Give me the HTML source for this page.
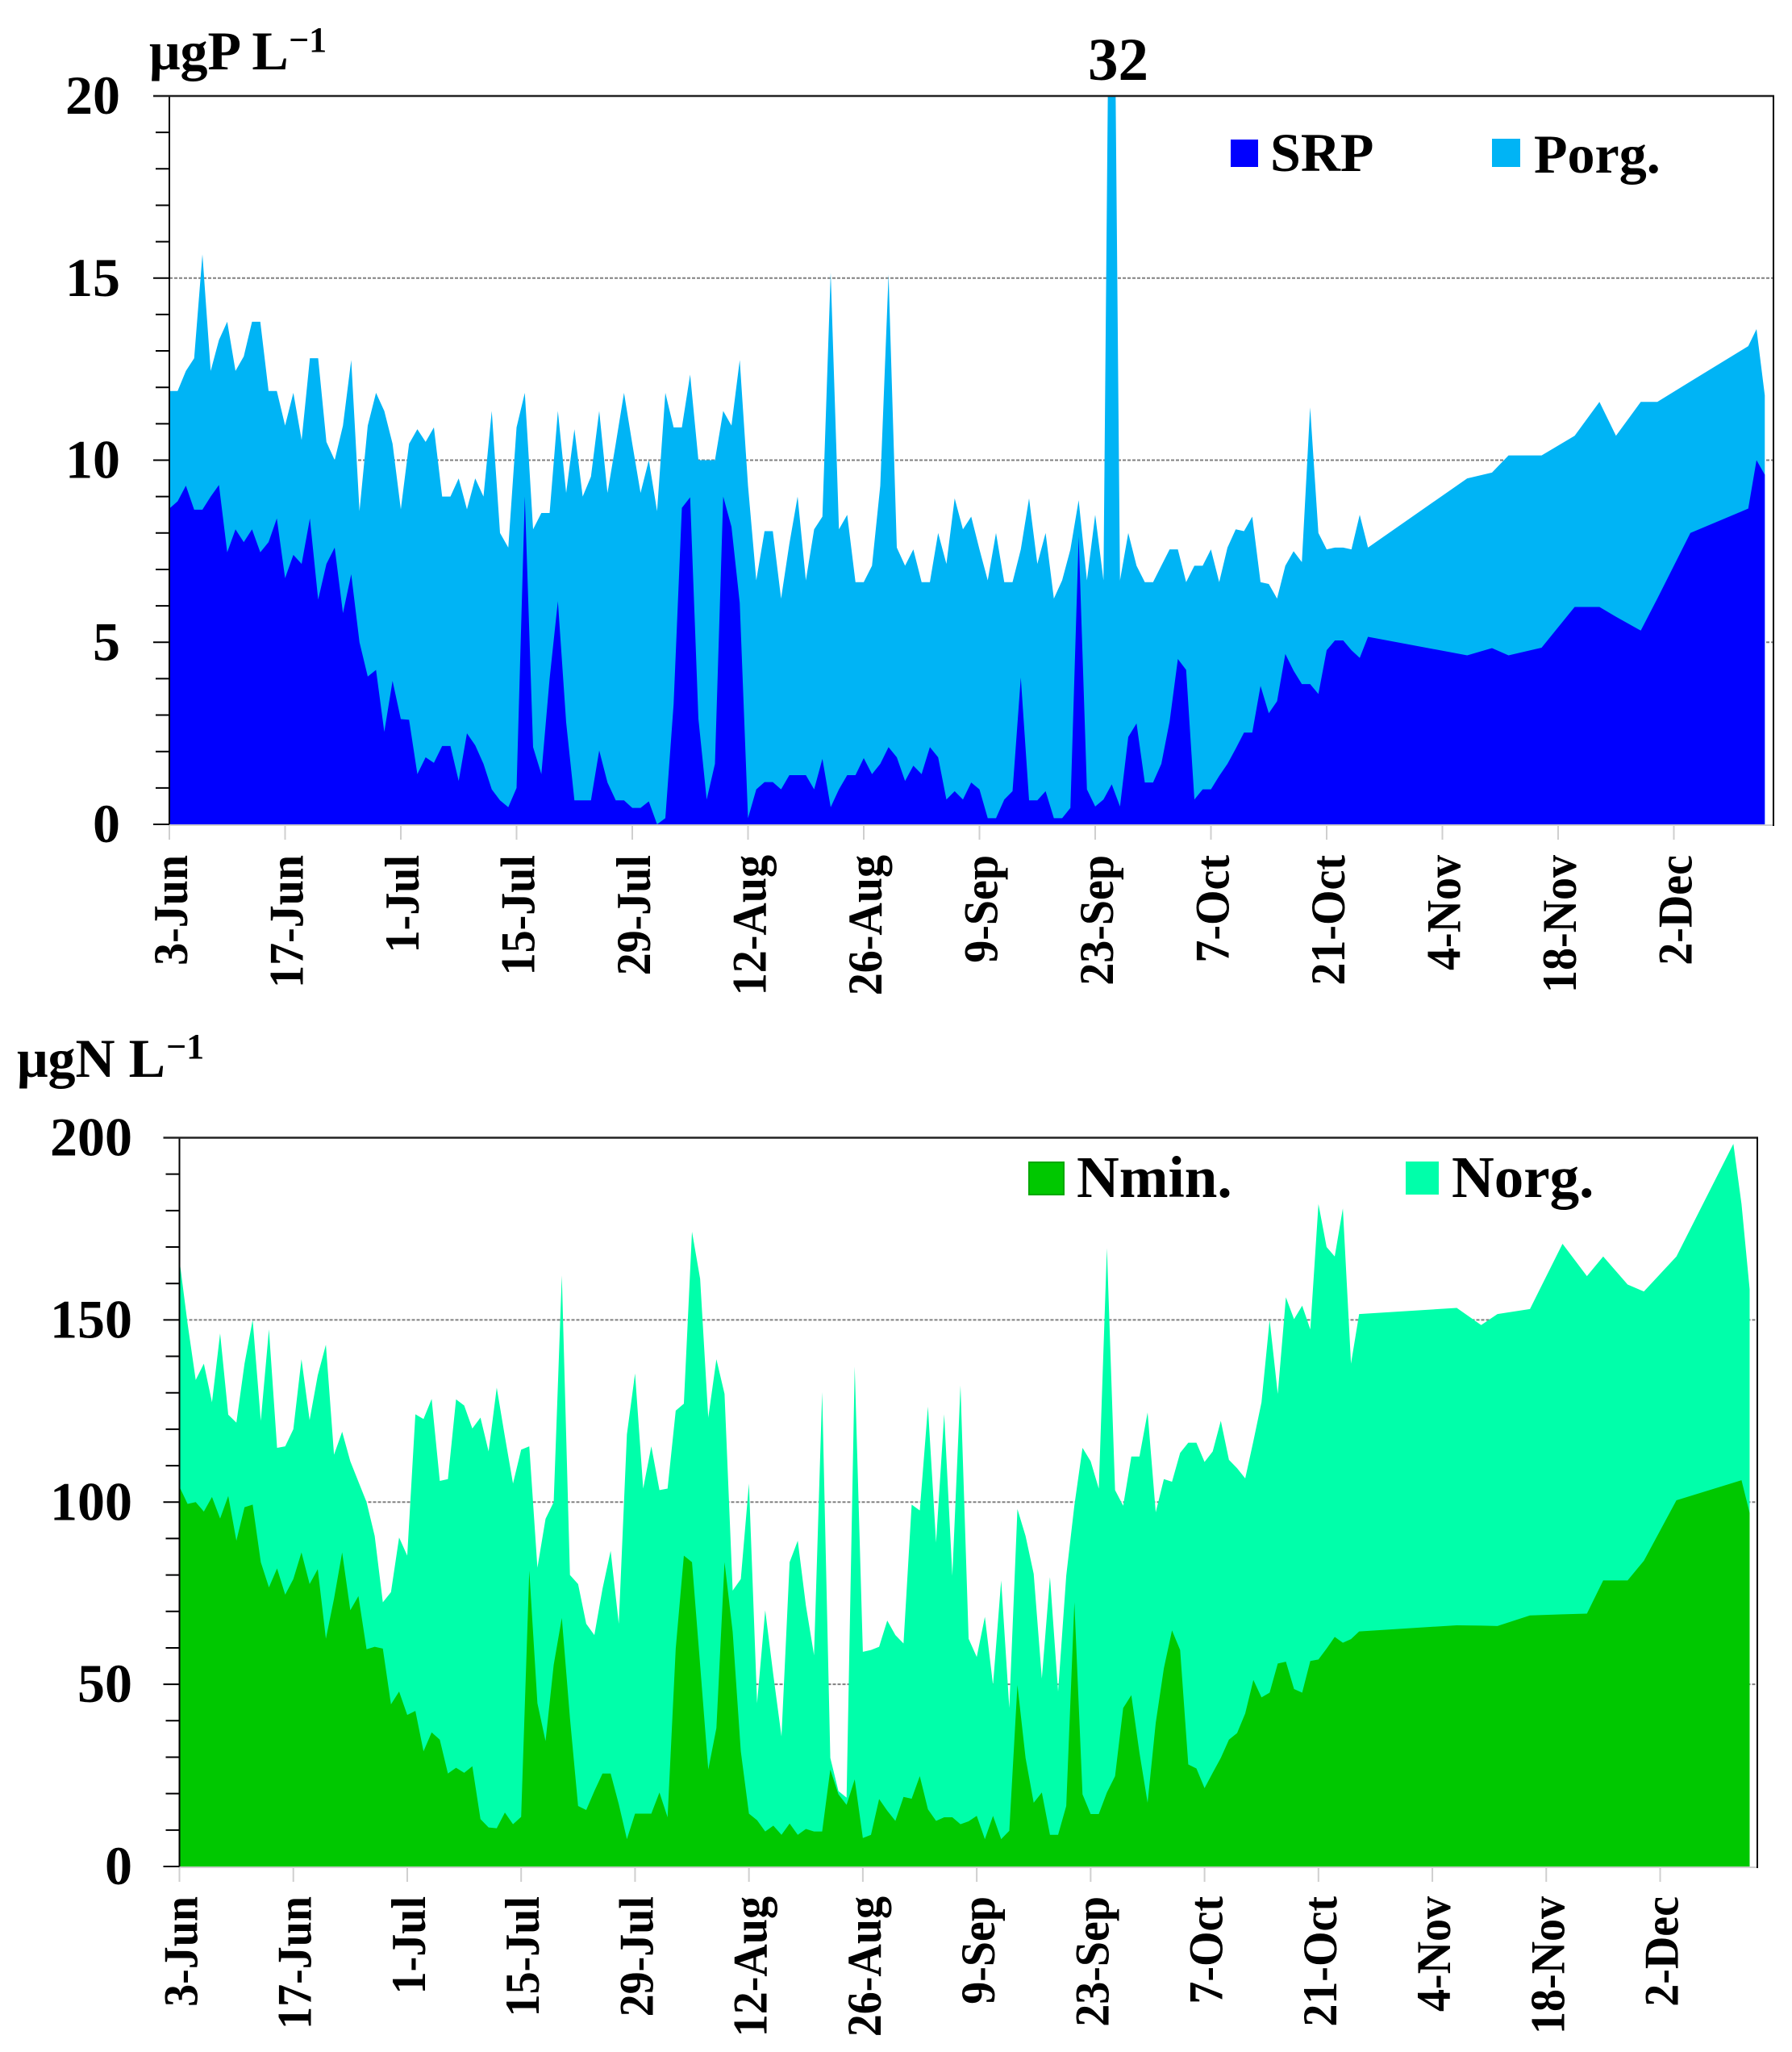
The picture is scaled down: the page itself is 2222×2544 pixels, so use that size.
<!DOCTYPE html>
<html lang="en">
<head>
<meta charset="utf-8">
<title>Phosphorus and nitrogen fractions, 3 June to December</title>
<style>
  html, body { margin: 0; padding: 0; background: #fff; }
  svg { display: block; }
  text { font-family: "Liberation Serif", serif; font-weight: bold; fill: #000; }
</style>
</head>
<body>
<svg id="figure" xmlns="http://www.w3.org/2000/svg" width="2222" height="2544" viewBox="0 0 2222 2544">
  <rect x="0" y="0" width="2222" height="2544" fill="#fff"/>

  <g id="chart-p"></g>
  <g id="chart-n"></g>

  <text x="185" y="86" font-size="68">μgP L</text>
  <text x="358" y="64" font-size="44">−1</text>
  <text x="1349" y="99" font-size="75">32</text>

  <rect x="1526" y="173" width="34" height="34" fill="#0000ff"/>
  <text x="1575" y="212" font-size="68">SRP</text>
  <rect x="1850" y="172" width="35" height="35" fill="#00b4f5"/>
  <text x="1902" y="214" font-size="68">Porg.</text>

  <text x="21" y="1335" font-size="68">μgN L</text>
  <text x="206" y="1312" font-size="44">−1</text>

  <rect x="1276" y="1441" width="43" height="40" fill="#00c800" stroke="#00a800" stroke-width="2"/>
  <text x="1335" y="1484" font-size="73">Nmin.</text>
  <rect x="1743" y="1440" width="41" height="41" fill="#00ffaa"/>
  <text x="1800" y="1484" font-size="73">Norg.</text>
</svg>

<script>
// Days elapsed since 3 June for each sample (shared by both charts)
const dayOffsets = [
  0,1,2,3,4,5,6,7,8,9,10,11,12,13,14,15,16,17,18,19,
  20,21,22,23,24,25,26,27,28,29,30,31,32,33,34,35,36,37,38,39,
  40,41,42,43,44,45,46,47,48,49,50,51,52,53,54,55,56,57,58,59,
  60,61,62,63,64,65,66,67,68,69,70,71,72,73,74,75,76,77,78,79,
  80,81,82,83,84,85,86,87,88,89,90,91,92,93,94,95,96,97,98,99,
  100,101,102,103,104,105,106,107,108,109,110,111,112,113,114,115,116,117,118,119,
  120,121,122,123,124,125,126,127,128,129,130,131,132,133,134,135,136,137,138,139,
  140,141,142,143,144,145,
  157,160,162,166,170,173,175,178,180,184,191,192,193
];

const xTickDays = [0,14,28,42,56,70,84,98,112,126,140,154,168,182];
const xTickLabels = ["3-Jun","17-Jun","1-Jul","15-Jul","29-Jul","12-Aug","26-Aug","9-Sep","23-Sep","7-Oct","21-Oct","4-Nov","18-Nov","2-Dec"];

const pYTicks = [0,5,10,15,20];
const pYTickLabels = ["0","5","10","15","20"];
const pGridValues = [5,10,15];
const pMinorTicks = [1,2,3,4,6,7,8,9,11,12,13,14,16,17,18,19];

const nYTicks = [0,50,100,150,200];
const nYTickLabels = ["0","50","100","150","200"];
const nGridValues = [50,100,150];
const nMinorTicks = [10,20,30,40,60,70,80,90,110,120,130,140,160,170,180,190];

// Soluble reactive phosphorus
const srpValues = [
  8.67,8.87,9.3,8.64,8.64,9.0,9.32,7.47,8.1,7.75,
  8.1,7.47,7.75,8.4,6.76,7.4,7.15,8.4,6.17,7.15,
  7.6,5.8,6.87,5.0,4.06,4.24,2.54,3.94,2.89,2.87,
  1.38,1.84,1.69,2.15,2.15,1.19,2.5,2.17,1.66,0.96,
  0.66,0.47,1.0,9.0,2.12,1.38,4.0,6.13,2.8,0.66,
  0.66,0.66,2.03,1.15,0.66,0.66,0.45,0.45,0.63,0.0,
  0.17,3.3,8.69,8.98,2.9,0.68,1.66,9.0,8.17,6.08,
  0.17,0.96,1.16,1.16,0.96,1.35,1.35,1.35,0.96,1.8,
  0.47,0.96,1.35,1.35,1.82,1.38,1.66,2.12,1.84,1.19,
  1.61,1.38,2.12,1.84,0.68,0.91,0.68,1.15,0.96,0.17,
  0.17,0.68,0.91,4.03,0.66,0.66,0.91,0.17,0.17,0.45,
  7.9,0.96,0.49,0.68,1.1,0.49,2.4,2.77,1.15,1.15,
  1.66,2.82,4.54,4.24,0.68,0.96,0.96,1.33,1.66,2.08,
  2.52,2.52,3.8,3.05,3.38,4.68,4.22,3.85,3.85,3.58,
  4.78,5.05,5.05,4.78,4.57,5.15,
  4.64,4.84,4.64,4.85,5.97,5.97,5.7,5.32,6.2,8.0,8.67,10.0,9.6
];

// Top of the stack: SRP + organic phosphorus
const totalPValues = [
  11.9,11.9,12.45,12.8,15.65,12.45,13.3,13.8,12.45,12.85,
  13.8,13.8,11.9,11.9,10.95,11.85,10.55,12.8,12.8,10.5,
  10.0,10.95,12.75,8.6,10.95,11.85,11.35,10.45,8.65,10.45,
  10.85,10.5,10.9,9.0,9.0,9.5,8.65,9.5,9.0,11.35,
  8.0,7.6,10.9,11.85,8.1,8.55,8.55,11.35,9.1,10.85,
  9.0,9.55,11.35,9.1,10.45,11.85,10.45,9.1,10.0,8.6,
  11.85,10.9,10.9,12.35,10.0,10.0,10.0,11.35,10.95,12.75,
  9.3,6.7,8.05,8.05,6.2,7.7,9.0,6.7,8.1,8.45,
  15.15,8.1,8.5,6.65,6.65,7.1,9.3,15.1,7.6,7.1,
  7.55,6.65,6.65,8.0,7.15,8.95,8.1,8.45,7.55,6.7,
  8.0,6.65,6.65,7.55,8.95,7.15,8.0,6.2,6.7,7.55,
  8.9,6.7,8.5,6.7,32,6.7,8.0,7.1,6.65,6.65,
  7.1,7.55,7.55,6.65,7.1,7.1,7.55,6.65,7.6,8.1,
  8.05,8.45,6.65,6.6,6.2,7.1,7.5,7.2,11.45,8.0,
  7.55,7.6,7.6,7.55,8.5,7.6,
  9.5,9.66,10.13,10.13,10.67,11.6,10.67,11.6,11.6,12.16,13.13,13.6,11.78
];

// Mineral nitrogen
const nminValues = [
  104.2,99.5,100,97.4,101.4,95.5,101.7,89.4,98.6,99.3,
  83.5,76.6,81.8,74.6,78.9,86.2,77.5,81.6,62.5,73.5,
  86.2,70.3,74.2,59.6,60.3,59.8,44.5,48,41.6,42.7,
  31.6,36.8,34.8,25.5,27.1,25.7,27.5,13,10.7,10.5,
  14.8,11.6,13.6,81.2,44.8,34.4,55.3,68.2,40.7,16.6,
  15.5,20.7,25.5,25.5,17.1,7.5,14.5,14.5,14.5,20.3,
  13.5,59.8,85.3,83.5,55.3,26.6,38,83.5,64.4,31.6,
  14.5,12.7,9.6,11.2,8.7,11.8,8.7,10.3,9.6,9.6,
  26.6,19.8,16.9,23.9,7.8,8.7,18.5,15.3,12.5,19.1,
  18.6,24.8,15.7,12.5,13.5,13.5,11.6,12.4,13.9,7.5,
  13.9,7.5,9.8,49.8,29.8,17.5,20.3,8.7,8.7,16.6,
  72.5,19.8,14.4,14.4,20.3,24.8,43.5,47,31.2,17.5,
  39.4,54.4,64.8,59.4,28,26.9,21.5,25.7,29.8,34.8,
  36.6,42,51.2,46.4,47.7,55.7,56.2,48.7,47.7,56.4,
  56.8,59.8,63,61.4,62.4,64.5,
  66.2,66.1,66,68.9,69.2,69.4,78.5,78.5,83.9,100.5,105.3,106,97
];

// Top of the stack: mineral + organic nitrogen
const totalNValues = [
  166.4,149,133.5,138,127.4,146.3,124,121.8,138,150,
  122.3,147.4,114.9,115.3,120,139.2,122.5,134.8,143.2,113,
  119.3,111.2,105.6,100,90.7,72.5,75.3,90.3,85.3,124.1,
  122.8,128.3,105.8,106.3,128.2,126.5,120.2,123.2,113.9,131.4,
  118,105.1,114.4,115.3,82,95.4,100,162.2,80,77.5,
  66.6,63.5,76.2,86.6,66.6,118.6,135.3,103.7,115.3,103.3,
  103.7,125.1,127,174.2,161.3,123.2,139.2,129.7,75.7,78.9,
  105.1,44.8,70.3,52.5,35.7,83.5,89.4,71.6,58,130.2,
  29.8,20.7,18.9,137.2,58.9,59.4,60.3,67.5,63.5,61.2,
  99.3,97.7,126.2,88.9,124.1,79.8,132,62.5,57.5,68.5,
  49.8,78.5,43.5,98.1,90.7,80.3,51.6,79.4,48,79.8,
  99.1,114.9,111.2,103.7,169.7,103.3,99,112.5,112.5,124.6,
  97.2,106.3,105.6,113.5,116.3,116.3,111,113.9,122.3,111.6,
  109.3,106.5,116.7,127.4,150,129.7,156.2,150.2,153.9,147.4,
  181.8,170,167.4,180.6,138,151.6,
  153.3,148.6,151.6,153,170.9,162,167.4,159.7,157.8,167.4,198.3,181.8,158.4
];

const SVG_NS = 'http://www.w3.org/2000/svg';

function make(parent, tag, attrs) {
  const el = document.createElementNS(SVG_NS, tag);
  for (const key in attrs) el.setAttribute(key, attrs[key]);
  parent.appendChild(el);
  return el;
}

function areaPath(days, values, xScale, yScale) {
  let d = 'M' + xScale(days[0]) + ' ' + yScale(0);
  for (let i = 0; i < days.length; i++) {
    d += 'L' + xScale(days[i]).toFixed(2) + ' ' + yScale(values[i]).toFixed(2);
  }
  d += 'L' + xScale(days[days.length - 1]) + ' ' + yScale(0) + 'Z';
  return d;
}

function drawChart(opts) {
  const g = document.getElementById(opts.id);
  const xScale = function (day) { return opts.left + day * opts.pxPerDay; };
  const yScale = function (v) { return opts.bottom - (v / opts.yMax) * (opts.bottom - opts.top); };

  const clip = make(g, 'clipPath', { id: opts.id + '-clip' });
  make(clip, 'rect', { x: opts.left, y: opts.top, width: opts.right - opts.left, height: opts.bottom - opts.top });

  // Gridlines sit behind the areas
  opts.gridValues.forEach(function (v) {
    const line = make(g, 'line', { x1: opts.left, x2: opts.right, y1: yScale(v), y2: yScale(v), stroke: '#808080', 'stroke-width': 2, 'stroke-dasharray': '4 2' });
    
    
  });

  const upper = make(g, 'path', { d: areaPath(dayOffsets, opts.upperValues, xScale, yScale), fill: opts.upperColor, 'clip-path': 'url(#' + opts.id + '-clip)' });
  
  

  const lower = make(g, 'path', { d: areaPath(dayOffsets, opts.lowerValues, xScale, yScale), fill: opts.lowerColor, 'clip-path': 'url(#' + opts.id + '-clip)' });
  
  

  // X axis
  const xAxis = make(g, 'line', { x1: opts.left, x2: opts.right, y1: opts.bottom + 1, y2: opts.bottom + 1, stroke: '#cfcfcf', 'stroke-width': 2 });
  
  

  xTickDays.forEach(function (day, i) {
    const x = xScale(day);
    const tick = make(g, 'line', { x1: x, x2: x, y1: opts.bottom + 1, y2: opts.bottom + 19, stroke: '#cfcfcf', 'stroke-width': 2 });
    
    

    const label = make(g, 'text', {
      transform: 'translate(' + (x + 22) + ' ' + opts.xLabelTop + ') rotate(-90) scale(1 1.08)',
      'text-anchor': 'end',
      'font-size': 56
    });
    label.textContent = xTickLabels[i];
    
    
  });

  // Y axis
  opts.minorTicks.forEach(function (v) {
    const tick = make(g, 'line', { x1: opts.left - 17, x2: opts.left, y1: yScale(v), y2: yScale(v), stroke: '#000', 'stroke-width': 2 });
    
    
  });
  opts.yTicks.forEach(function (v, i) {
    const tick = make(g, 'line', { x1: opts.left - 20, x2: opts.left, y1: yScale(v), y2: yScale(v), stroke: '#000', 'stroke-width': 2 });
    
    

    const label = make(g, 'text', { x: opts.yLabelRight, y: yScale(v) + 22, 'text-anchor': 'end', 'font-size': 68 });
    label.textContent = opts.yTickLabels[i];
    
    
  });

  // Frame lines
  const leftLine = make(g, 'line', { x1: opts.left, x2: opts.left, y1: opts.top, y2: opts.bottom, stroke: '#000', 'stroke-width': 2 });
  
  

  const topLine = make(g, 'line', { x1: opts.left - 20, x2: opts.right + 1, y1: opts.top, y2: opts.top, stroke: '#222', 'stroke-width': 2.5 });
  
  

  const rightLine = make(g, 'line', { x1: opts.right, x2: opts.right, y1: opts.top, y2: opts.bottom + 2, stroke: '#000', 'stroke-width': 2 });
  
  
}

drawChart({
  id: 'chart-p',
  left: 210, right: 2199, top: 119, bottom: 1022, yMax: 20, pxPerDay: 10.25,
  yLabelRight: 149, xLabelTop: 1060,
  yTicks: pYTicks, yTickLabels: pYTickLabels, gridValues: pGridValues, minorTicks: pMinorTicks,
  upperValues: totalPValues, upperColor: '#00b4f5', upperName: 'porg-area',
  lowerValues: srpValues, lowerColor: '#0000ff', lowerName: 'srp-area'
});

drawChart({
  id: 'chart-n',
  left: 222.5, right: 2179, top: 1410.5, bottom: 2314, yMax: 200, pxPerDay: 10.088,
  yLabelRight: 164, xLabelTop: 2351,
  yTicks: nYTicks, yTickLabels: nYTickLabels, gridValues: nGridValues, minorTicks: nMinorTicks,
  upperValues: totalNValues, upperColor: '#00ffaa', upperName: 'norg-area',
  lowerValues: nminValues, lowerColor: '#00c800', lowerName: 'nmin-area'
});
</script>
</body>
</html>
